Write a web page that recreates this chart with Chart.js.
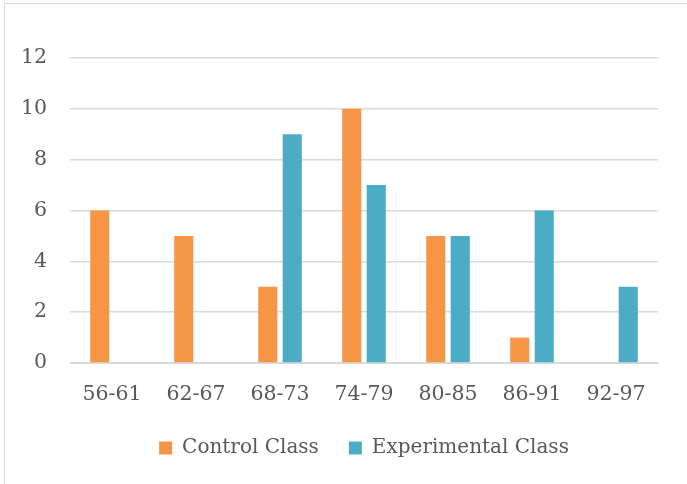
<!DOCTYPE html>
<html>
<head>
<meta charset="utf-8">
<script src="https://cdn.jsdelivr.net/npm/chart.js@4"></script>
<style>
  html, body { margin: 0; padding: 0; background: #fff; overflow: hidden; }
  #wrap { position: relative; width: 687px; height: 484px; }
  #frame { position: absolute; left: 4px; top: 3px; width: 720px; height: 520px; border: 1px solid #d9d9d9; box-sizing: border-box; }
  canvas { position: absolute; left: 0; top: 0; }
</style>
</head>
<body>
<div id="wrap">
  <div id="frame"></div>
  <canvas id="chart1" width="687" height="484"></canvas>
</div>
<script>
let categories = ['56-61', '62-67', '68-73', '74-79', '80-85', '86-91', '92-97'];
let controlClass = [6, 5, 3, 10, 5, 1, 0];
let experimentalClass = [0, 0, 9, 7, 5, 6, 3];
let seriesNames = ['Control Class', 'Experimental Class'];
let yTicks = [0, 2, 4, 6, 8, 10, 12];

const fontFamily = '"DejaVu Serif", serif';
const fontSize = 20.5;
const textColor = '#595959';

document.addEventListener('DOMContentLoaded', function () {
  const ctx = document.getElementById('chart1').getContext('2d');

  new Chart(ctx, {
    type: 'bar',
    data: {
      labels: categories,
      datasets: [{
        label: seriesNames[0],
        data: controlClass,
        backgroundColor: '#F79646',
        borderWidth: 0,
        categoryPercentage: 0.583,
        barPercentage: 0.78
      }, {
        label: seriesNames[1],
        data: experimentalClass,
        backgroundColor: '#4BACC6',
        borderWidth: 0,
        categoryPercentage: 0.583,
        barPercentage: 0.78
      }]
    },
    options: {
      responsive: false,
      animation: false,
      layout: {
        padding: { top: 58, right: 29, bottom: 26, left: 0 }
      },
      plugins: {
        legend: {
          position: 'bottom',
          fullSize: false,
          maxHeight: 50,
          labels: {
            boxWidth: 13,
            boxHeight: 13,
            padding: 30,
            color: textColor,
            font: { family: fontFamily, size: 20 }
          }
        },
        tooltip: { enabled: false }
      },
      scales: {
        x: {
          grid: { display: false, drawTicks: false },
          border: { display: true, color: '#d9d9d9', width: 1 },
          ticks: {
            padding: 19,
            color: textColor,
            font: { family: fontFamily, size: fontSize }
          },
          afterFit: function (scale) { scale.height = 45; }
        },
        y: {
          min: 0,
          max: 12,
          afterBuildTicks: function (scale) { scale.ticks = yTicks.map(v => ({ value: v })); },
          grid: { color: '#d9d9d9', lineWidth: 1.5, drawTicks: false },
          border: { display: false },
          ticks: {
            padding: 23,
            color: textColor,
            font: { family: fontFamily, size: fontSize }
          },
          afterFit: function (scale) { scale.width = 70; }
        }
      }
    }
  });
});
</script>
</body>
</html>
